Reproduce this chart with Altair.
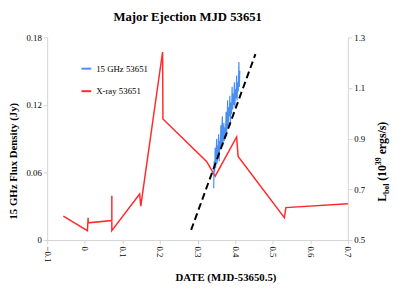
import altair as alt
import pandas as pd

FONT = "Liberation Serif"

# X-ray (right axis, L_bol)
red_x = [-0.057, 0.007, 0.009, 0.009, 0.072, 0.072, 0.072, 0.146, 0.149, 0.207, 0.208,
         0.324, 0.347, 0.404, 0.408, 0.531, 0.535, 0.700]
red_y = [0.594, 0.537, 0.588, 0.568, 0.577, 0.675, 0.537, 0.682, 0.634, 1.242, 0.978,
         0.810, 0.752, 0.907, 0.830, 0.588, 0.628, 0.643]

# 15 GHz radio (left axis, Jy)
blue_x = [0.343, 0.3442, 0.3455, 0.347, 0.3482, 0.3495, 0.351, 0.3522, 0.3535, 0.355,
          0.3562, 0.3575, 0.359, 0.3605, 0.362, 0.3632, 0.3645, 0.366, 0.3672, 0.3688,
          0.370, 0.3715, 0.373, 0.3745, 0.376, 0.3772, 0.3788, 0.380, 0.3815, 0.383,
          0.3845, 0.386, 0.3872, 0.389, 0.3905, 0.392, 0.3935, 0.395, 0.3965, 0.398,
          0.3995, 0.401, 0.4025, 0.404, 0.4052, 0.407, 0.4085, 0.410, 0.4112, 0.4125]
blue_y = [0.046, 0.070, 0.060, 0.082, 0.064, 0.078, 0.090, 0.068, 0.084, 0.076,
          0.094, 0.070, 0.088, 0.080, 0.102, 0.082, 0.096, 0.110, 0.084, 0.092,
          0.104, 0.088, 0.100, 0.096, 0.114, 0.092, 0.106, 0.124, 0.100, 0.118,
          0.110, 0.128, 0.102, 0.122, 0.112, 0.136, 0.116, 0.130, 0.120, 0.140,
          0.118, 0.134, 0.126, 0.146, 0.124, 0.140, 0.132, 0.158, 0.136, 0.150]

# dashed fit line (left axis)
fit_x = [0.283, 0.454]
fit_y = [0.009, 0.165]

series = ["15 GHz 53651", "X-ray 53651"]
colors = ["#4a8ef0", "#ff2a2a"]
x_ticks = [-0.1, 0, 0.1, 0.2, 0.3, 0.4, 0.5, 0.6, 0.7]
left_ticks = [0, 0.06, 0.12, 0.18]
right_ticks = [0.5, 0.7, 0.9, 1.1, 1.3]

df_red = pd.DataFrame({"x": red_x, "y": red_y, "s": series[1], "i": range(len(red_x))})
df_blue = pd.DataFrame({"x": blue_x, "y": blue_y, "s": series[0], "i": range(len(blue_x))})
df_fit = pd.DataFrame({"x": fit_x, "y": fit_y})

xscale = alt.Scale(domain=[-0.1, 0.7], nice=False, zero=False)
xaxis = alt.Axis(values=x_ticks, labelAngle=90,
                 labelExpr="datum.value == 0 ? '0' : format(datum.value, '.1f')",
                 title="DATE (MJD-53650.5)", titleX=182, titleY=38,
                 titleAlign="center", titleBaseline="middle")
color_scale = alt.Scale(domain=series, range=colors)
legend = alt.Legend(title=None, orient="none", legendX=34, legendY=26,
                    symbolType="stroke", symbolStrokeWidth=2, symbolSize=100,
                    labelFont=FONT, labelFontSize=9, rowPadding=12, labelOffset=4)

left_scale = alt.Scale(domain=[0, 0.18], nice=False, zero=False)
left_axis = alt.Axis(values=left_ticks, orient="left",
                     labelExpr="datum.value == 0 ? '0' : format(datum.value, '.2f')",
                     title="15 GHz Flux Density (Jy)", titleAngle=270, titleX=-34, titleY=126,
                     titleAlign="center", titleBaseline="middle")
right_scale = alt.Scale(domain=[0.5, 1.3], nice=False, zero=False)
right_axis = alt.Axis(values=right_ticks, orient="right", format=".1f", title=None)

red = alt.Chart(df_red).mark_line(strokeWidth=1.5).encode(
    x=alt.X("x:Q", scale=xscale, axis=xaxis),
    y=alt.Y("y:Q", scale=right_scale, axis=right_axis),
    color=alt.Color("s:N", scale=color_scale, legend=legend),
    order="i:Q",
)
blue = alt.Chart(df_blue).mark_line(strokeWidth=1.2).encode(
    x=alt.X("x:Q", scale=xscale, axis=xaxis),
    y=alt.Y("y:Q", scale=left_scale, axis=left_axis),
    color=alt.Color("s:N", scale=color_scale, legend=legend),
    order="i:Q",
)
fit = alt.Chart(df_fit).mark_line(strokeWidth=2, strokeDash=[7, 4], color="black").encode(
    x=alt.X("x:Q", scale=xscale, axis=xaxis),
    y=alt.Y("y:Q", scale=left_scale, axis=None),
)

# right axis title with sub/superscripts, built from text pieces (rotated 270)
pieces = [
    ("L", 12, 0, 0),
    ("bol", 8, 8, 2.5),
    ("(10", 12, 21.5, 0),
    ("39", 8, 37.5, -5.5),
    ("ergs/s)", 12, 48.5, 0),
]
base_x, base_y = 346, 168
txt_layers = []
for t, fs, off, shift in pieces:
    txt_layers.append(
        alt.Chart(pd.DataFrame({"t": [t]})).mark_text(
            font=FONT, fontSize=fs, fontWeight="bold", angle=270,
            align="left", baseline="alphabetic", color="black"
        ).encode(x=alt.value(base_x + shift), y=alt.value(base_y - off), text="t:N")
    )

chart = alt.layer(red, blue, fit, *txt_layers).resolve_scale(y="independent").properties(
    width=307, height=207,
    autosize=alt.AutoSizeParams(type="none"),
    padding={"left": 40, "top": 27, "right": 43, "bottom": 45},
    title=alt.TitleParams("Major Ejection MJD 53651", font=FONT, fontSize=13,
                          fontWeight="bold", anchor="middle", dx=-10, offset=10, color="black"),
).configure_view(stroke=None).configure_axis(
    grid=False, domainColor="#d4d4d4", tickColor="#d4d4d4", tickSize=4,
    labelFont=FONT, labelFontSize=9, labelColor="black",
    titleFont=FONT, titleFontSize=11, titleFontWeight="bold", titleColor="black",
)

chart.save("out.html", embed_options={"renderer": "svg", "actions": False})
